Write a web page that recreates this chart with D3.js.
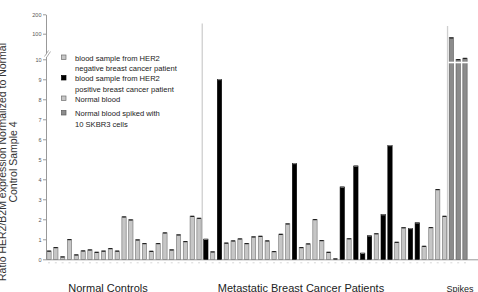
<!DOCTYPE html>
<html>
<head>
<meta charset="utf-8">
<script src="https://cdn.jsdelivr.net/npm/d3@7"></script>
<style>
  body { margin: 0; background: #fff; }
  svg { display: block; font-family: "Liberation Sans", Arial, sans-serif; }
</style>
</head>
<body>
<div id="chart"></div>
<script>
// HER2/B2M ratio per sample, three groups
const width = 478;
const height = 292;

const groups = ['Normal Controls', 'Metastatic Breast Cancer Patients', 'Spikes'];

const normalValues = [0.42, 0.6, 0.13, 1.0, 0.23, 0.43, 0.48, 0.36, 0.42, 0.55, 0.42, 2.13,
  1.98, 0.98, 0.8, 0.41, 0.8, 1.33, 0.48, 1.23, 0.9, 2.16, 2.06];
const patientValues = [1.01, 0.38, 9.0, 0.82, 0.93, 1.03, 0.8, 1.13, 1.16, 0.93, 0.4, 1.26,
  1.78, 4.8, 0.6, 0.78, 2.0, 0.95, 0.36, 0.03, 3.62, 1.04, 4.67, 0.31, 1.18, 1.29, 2.24,
  5.7, 0.86, 1.59, 1.55, 1.83, 0.66, 1.6, 3.5, 2.16];
// 'pos' = HER2 positive patient, 'neg' = HER2 negative patient
const patientTypes = ['pos', 'neg', 'pos', 'neg', 'neg', 'neg', 'neg', 'neg', 'neg', 'neg', 'neg', 'neg',
  'neg', 'pos', 'neg', 'neg', 'neg', 'neg', 'neg', 'neg', 'pos', 'neg', 'pos', 'pos', 'pos', 'neg', 'pos',
  'pos', 'neg', 'neg', 'pos', 'pos', 'neg', 'neg', 'neg', 'neg'];
const spikeValues = [86, 10, 14];

const yTicks = [0, 1, 2, 3, 4, 5, 6, 7, 8, 9, 10, 100, 200];

const legendLabels = [
  ['blood sample from HER2', 'negative breast cancer patient'],
  ['blood sample from HER2', 'positive breast cancer patient'],
  ['Normal blood'],
  ['Normal blood spiked with', '10 SKBR3 cells']
];
const legendTypes = ['neg', 'pos', 'normal', 'spike'];

const yTitle = ['Ratio HER2/B2M expression Normalized to Normal', 'Control Sample 4'];

const colors = {
  normal: {fill: '#c6c6c6', stroke: '#707070'},
  neg: {fill: '#c6c6c6', stroke: '#707070'},
  pos: {fill: '#000000', stroke: '#000000'},
  spike: {fill: '#8c8c8c', stroke: '#5a5a5a'}
};

const data = [];
normalValues.forEach(v => data.push({group: 0, type: 'normal', value: v}));
patientValues.forEach((v, i) => data.push({group: 1, type: patientTypes[i], value: v}));
spikeValues.forEach(v => data.push({group: 2, type: 'spike', value: v}));
data.forEach((d, i) => d.id = i);

const x = d3.scaleBand()
  .domain(data.map(d => d.id))
  .range([45.6, 468.4])
  .paddingInner(0.37)
  .paddingOuter(0.185);

// broken axis: 0-10 linear, then compressed segment above 10
const y = d3.scaleLinear()
  .domain([0, 10, 100, 200])
  .range([259.3, 59.3, 33.7, 14.3]);

const svg = d3.select('#chart').append('svg')
  .attr('width', width).attr('height', height);

// y axis
const yAxis = g => g
  .attr('transform', 'translate(46,0)')
  .call(d3.axisLeft(y).tickValues(yTicks).tickSize(3).tickSizeOuter(0).tickPadding(1.5))
  .call(g => g.select('.domain').attr('stroke', '#999').attr('stroke-width', 1))
  .call(g => g.selectAll('.tick line').attr('stroke', '#999'))
  .call(g => g.selectAll('.tick text').attr('fill', '#555').style('font-size', '5.5px'));
svg.append('g').call(yAxis);

// axis break mark
const brk = svg.append('g').attr('transform', 'translate(48,54)');
brk.append('polygon').attr('points', '-3.5,3 0.5,-3 3,-3 -1,3').attr('fill', '#fff');
brk.append('line').attr('x1', -3.5).attr('y1', 2.5).attr('x2', 0.5).attr('y2', -3.5)
  .attr('stroke', '#999').attr('stroke-width', 0.8);
brk.append('line').attr('x1', -1.5).attr('y1', 3.5).attr('x2', 2.5).attr('y2', -2.5)
  .attr('stroke', '#999').attr('stroke-width', 0.8);

// group separators
const sepX = [x(23) - x.step() * 0.185 - 0.2, x(59) - x.step() * 0.185 - 0.4];
const sepTop = [23.5, 26];
sepX.forEach((sx, i) => {
  svg.append('line')
    .attr('x1', sx).attr('x2', sx)
    .attr('y1', sepTop[i]).attr('y2', y(0))
    .attr('stroke', '#cfcfcf').attr('stroke-width', 1.3);
});

// x axis
const xAxis = g => g
  .attr('transform', `translate(0,${y(0)})`)
  .call(d3.axisBottom(x).tickSize(0).tickFormat(''))
  .call(g => g.select('.domain').attr('d', 'M46,0.5H478').attr('stroke', '#999'))
  .call(g => g.selectAll('.tick').append('line')
    .attr('x1', -1).attr('x2', 1).attr('y1', 3.5).attr('y2', 3.5)
    .attr('stroke', '#c4c4c4').attr('stroke-width', 0.7));
svg.append('g').call(xAxis);

// bars
svg.append('g')
  .selectAll('rect').data(data).enter().append('rect')
  .attr('x', d => x(d.id))
  .attr('y', d => y(d.value))
  .attr('width', x.bandwidth())
  .attr('height', d => y(0) - y(d.value))
  .attr('fill', d => colors[d.type].fill)
  .attr('stroke', d => colors[d.type].stroke)
  .attr('stroke-width', 0.6);

// error bar caps
svg.append('g')
  .selectAll('line').data(data).enter().append('line')
  .attr('x1', d => x(d.id) + 0.3)
  .attr('x2', d => x(d.id) + x.bandwidth() - 0.3)
  .attr('y1', d => y(d.value) + 0.3)
  .attr('y2', d => y(d.value) + 0.3)
  .attr('stroke', d => d.type === 'pos' ? '#777' : '#222')
  .attr('stroke-width', 1.2);

// break gap through the spike bars
const spikes = data.filter(d => d.group === 2);
svg.append('rect')
  .attr('x', x(spikes[0].id) - 1)
  .attr('width', x(spikes[2].id) + x.bandwidth() - x(spikes[0].id) + 2)
  .attr('y', 61.7).attr('height', 1.6)
  .attr('fill', '#fff');

// legend
const legend = svg.append('g');
const legendY = [58, 78.5, 99, 113.5];
legendLabels.forEach((lines, i) => {
  const c = colors[legendTypes[i]];
  legend.append('rect')
    .attr('x', 61.5).attr('y', legendY[i] - 3)
    .attr('width', 4.5).attr('height', 4.5)
    .attr('fill', c.fill).attr('stroke', c.stroke).attr('stroke-width', 0.7);
  lines.forEach((t, j) => {
    legend.append('text')
      .attr('x', 75).attr('y', legendY[i] + 2.5 + j * 10.5)
      .style('font-size', '7.6px').attr('fill', '#222')
      .text(t);
  });
});

// y title
const yTitleX = [6, 17];
yTitle.forEach((t, i) => {
  svg.append('text')
    .attr('transform', `translate(${yTitleX[i]},${162}) rotate(-90)`)
    .attr('text-anchor', 'middle')
    .style('font-size', '10.5px').attr('fill', '#333')
    .text(t);
});

// group labels
const groupLabelX = [108, 301, 460];
groups.forEach((g, i) => {
  svg.append('text')
    .attr('x', groupLabelX[i]).attr('y', 291.5)
    .attr('text-anchor', 'middle')
    .style('font-size', i === 2 ? '9px' : '11px').attr('fill', '#222')
    .text(g);
});
</script>
</body>
</html>
